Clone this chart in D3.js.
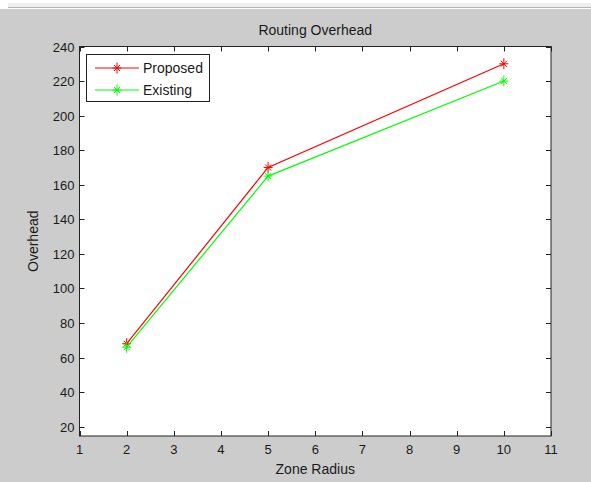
<!DOCTYPE html>
<html>
<head>
<meta charset="utf-8">
<style>
  body { margin: 0; background: #cccccc; }
  svg { display: block; }
  text { font-family: Arial, "Liberation Sans", sans-serif; fill: #1a1a1a; }
  .tick-label { font-size: 13px; }
</style>
<script src="https://d3js.org/d3.v7.min.js"></script>
</head>
<body>
<svg id="chart" width="591" height="482"></svg>
<script>
const zoneRadius = [2, 5, 10];
const proposed = [68, 170, 230];
const existing = [66, 165, 220];
const xTicks = [1, 2, 3, 4, 5, 6, 7, 8, 9, 10, 11];
const yTicks = [20, 40, 60, 80, 100, 120, 140, 160, 180, 200, 220, 240];

const plotLeft = 79.5, plotRight = 551, plotTop = 46.5, plotBottom = 436;

const svg = d3.select("#chart");

// window strip at the top
svg.append("rect").attr("x", 0).attr("y", 0).attr("width", 591).attr("height", 9).attr("fill", "#ffffff");
svg.append("rect").attr("x", 8).attr("y", 3).attr("width", 583).attr("height", 4).attr("fill", "#efefef");
svg.append("line").attr("x1", 8).attr("x2", 591).attr("y1", 7.5).attr("y2", 7.5).attr("stroke", "#b4b4b4");
svg.append("rect").attr("x", 0).attr("y", 9).attr("width", 591).attr("height", 473).attr("fill", "#cccccc");

const x = d3.scaleLinear().domain([1, 11]).range([plotLeft, plotRight]);
const y = d3.scaleLinear().domain([14.6, 240]).range([plotBottom, plotTop]);

svg.append("rect")
  .attr("x", plotLeft).attr("y", plotTop)
  .attr("width", plotRight - plotLeft).attr("height", plotBottom - plotTop)
  .attr("fill", "white");

// ticks (inward, all four sides)
const tl = 5;
xTicks.forEach(t => {
  const px = Math.round(x(t)) + 0.5;
  svg.append("line").attr("x1", px).attr("x2", px).attr("y1", plotBottom).attr("y2", plotBottom - tl).attr("stroke", "#222");
  svg.append("line").attr("x1", px).attr("x2", px).attr("y1", plotTop).attr("y2", plotTop + tl).attr("stroke", "#222");
  svg.append("text").attr("class", "tick-label")
    .attr("x", x(t)).attr("y", plotBottom + 18)
    .attr("text-anchor", "middle").text(t);
});
yTicks.forEach(t => {
  const py = Math.round(y(t)) + 0.5;
  svg.append("line").attr("x1", plotLeft).attr("x2", plotLeft + tl).attr("y1", py).attr("y2", py).attr("stroke", "#222");
  svg.append("line").attr("x1", plotRight).attr("x2", plotRight - tl).attr("y1", py).attr("y2", py).attr("stroke", "#222");
  svg.append("text").attr("class", "tick-label")
    .attr("x", plotLeft - 5).attr("y", y(t) + 5)
    .attr("text-anchor", "end").text(t);
});

svg.append("rect")
  .attr("x", plotLeft).attr("y", plotTop)
  .attr("width", plotRight - plotLeft).attr("height", plotBottom - plotTop)
  .attr("fill", "none").attr("stroke", "#222").attr("stroke-width", 1);

const line = d3.line().x((d, i) => x(zoneRadius[i])).y(d => y(d));

function star(g, cx, cy, color) {
  const r = 4.5;
  g.append("line").attr("x1", cx - r).attr("x2", cx + r).attr("y1", cy).attr("y2", cy).attr("stroke", color);
  g.append("line").attr("x1", cx).attr("x2", cx).attr("y1", cy - r - 1).attr("y2", cy + r + 1).attr("stroke", color);
  g.append("line").attr("x1", cx - 3).attr("x2", cx + 3).attr("y1", cy - 3).attr("y2", cy + 3).attr("stroke", color);
  g.append("line").attr("x1", cx - 3).attr("x2", cx + 3).attr("y1", cy + 3).attr("y2", cy - 3).attr("stroke", color);
}

const series = [
  { name: "Proposed", values: proposed, color: "#ff0000" },
  { name: "Existing", values: existing, color: "#00ff00" }
];

series.forEach(s => {
  svg.append("path").datum(s.values)
    .attr("d", line).attr("fill", "none")
    .attr("stroke", s.color).attr("stroke-width", 1.2);
  s.values.forEach((v, i) => star(svg, x(zoneRadius[i]), y(v), s.color));
});

// title and axis labels
svg.append("text").attr("x", (plotLeft + plotRight) / 2).attr("y", 35)
  .attr("text-anchor", "middle").attr("font-size", 14).text("Routing Overhead");
svg.append("text").attr("x", (plotLeft + plotRight) / 2).attr("y", 474)
  .attr("text-anchor", "middle").attr("font-size", 14).text("Zone Radius");
svg.append("text")
  .attr("transform", `translate(38,${(plotTop + plotBottom) / 2}) rotate(-90)`)
  .attr("text-anchor", "middle").attr("font-size", 14).text("Overhead");

// legend
const lg = svg.append("g");
lg.append("rect").attr("x", 86.5).attr("y", 54.5).attr("width", 123).attr("height", 47)
  .attr("fill", "white").attr("stroke", "#222");
series.forEach((s, i) => {
  const ly = 68 + i * 22;
  lg.append("line").attr("x1", 95).attr("x2", 139).attr("y1", ly).attr("y2", ly).attr("stroke", s.color);
  star(lg, 117, ly, s.color);
  lg.append("text").attr("x", 143).attr("y", ly + 5).attr("font-size", 14).text(s.name);
});
</script>
</body>
</html>
